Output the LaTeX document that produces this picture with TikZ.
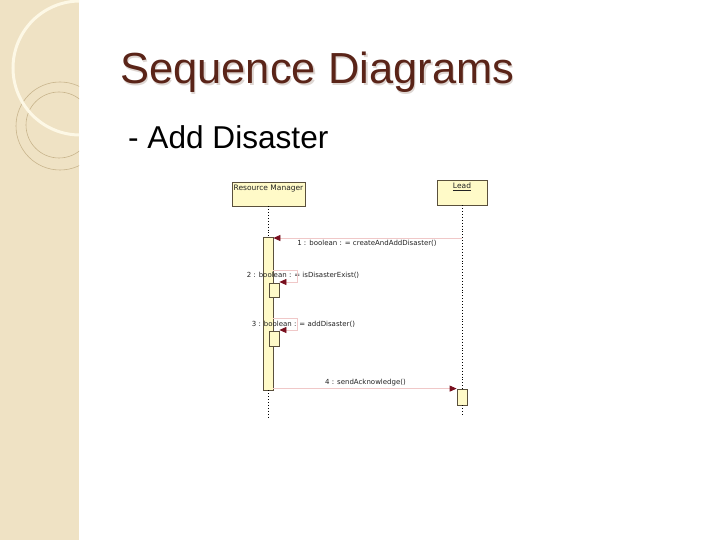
\documentclass[tikz,border=0pt]{standalone}
\usepackage{fontspec}
\setmainfont{Liberation Sans}
\newfontfamily\umlfont{DejaVu Sans}
\usetikzlibrary{arrows.meta,calc}
\definecolor{strip}{RGB}{239,226,196}
\definecolor{striplight}{RGB}{248,241,225}
\definecolor{ringline}{RGB}{200,180,140}
\definecolor{cream}{RGB}{253,248,230}
\definecolor{titlecol}{RGB}{90,36,24}
\definecolor{shadowcol}{RGB}{222,214,210}
\definecolor{boxfill}{RGB}{255,250,200}
\definecolor{boxline}{RGB}{90,80,60}
\definecolor{msgline}{RGB}{240,200,200}
\definecolor{arrowred}{RGB}{120,15,30}
\definecolor{umltext}{RGB}{35,35,35}
\tikzset{
 actorbox/.style={draw=boxline, fill=boxfill, line width=0.8pt, inner sep=0pt},
 actbar/.style={draw=boxline, fill=boxfill, line width=0.8pt, minimum width=10pt, inner sep=0pt},
 lifeline/.style={dotted, line width=0.9pt, black},
 msgarrow/.style={draw=msgline, line width=0.8pt, -{Triangle[length=7pt,width=6pt,color=arrowred]}},
 msglabel/.style={font=\umlfont\fontsize{7}{8}\selectfont, text=umltext, inner sep=0pt},
 actorlabel/.style={font=\umlfont\fontsize{7.5}{9}\selectfont, text=umltext, inner sep=0pt},
 ring/.style={draw=ringline, line width=0.6pt},
}
\begin{document}
\begin{tikzpicture}[x=1pt,y=-1pt]
\useasboundingbox (0,0) rectangle (720,540);
\fill[white] (0,0) rectangle (720,540);
% decorative strip
\begin{scope}
\clip (0,0) rectangle (79,540);
\fill[strip] (0,0) rectangle (79,540);
\fill[striplight] (0,0) -- (64,0) arc[start angle=0, end angle=-90, radius=64] -- cycle;
\draw[ring] (64,0) arc[start angle=0, end angle=-90, radius=64];
\draw[ring] (60,126) circle[radius=44];
\draw[ring] (59,125) circle[radius=33];
\draw[cream, line width=3pt] (80,68) circle[radius=67];
\end{scope}
% titles
\node[anchor=base west, inner sep=0pt, text=shadowcol, font=\fontsize{43.5}{50}\selectfont] at (121.5,85.5) {Sequence Diagrams};
\node[anchor=base west, inner sep=0pt, text=titlecol, font=\fontsize{43.5}{50}\selectfont] (title) at (120,84) {Sequence Diagrams};
\node[anchor=base west, inner sep=0pt, text=black, font=\fontsize{31.6}{37}\selectfont] (sub) at (128,149) {- Add Disaster};
% actors
\node[actorbox, minimum width=73pt, minimum height=24pt] (rm) at (268.5,194) {};
\node[actorlabel, anchor=north] (rmname) at ($(rm.north)+(0,3.5)$) {Resource Manager};
\node[actorbox, minimum width=50pt, minimum height=25pt] (lead) at (462,192.5) {};
\node[actorlabel, anchor=north] (leadname) at ($(lead.north)+(0,3.5)$) {\underline{Lead}};
% lifeline end points and helper coordinates
\coordinate (rmend) at (268,418);
\coordinate (leadend) at (462,415);
\coordinate (m1y) at (0,238);
\coordinate (m2top) at (297,270);
\coordinate (m2bot) at (297,282);
\coordinate (m3top) at (297,318);
\coordinate (m3bot) at (297,330);
% activation bars
\node[actbar, minimum height=153pt] (b1) at (268,313.5) {};
\node[actbar, minimum height=14pt] (b2) at (274,290) {};
\node[actbar, minimum height=15pt] (b3) at (274,338.5) {};
\node[actbar, minimum height=16pt] (b4) at (462,397) {};
% lifelines
\draw[lifeline] (b1.north |- rm.south) -- (b1.north);
\draw[lifeline] (b1.south) -- (rmend);
\draw[lifeline] (lead.south) -- (b4.north);
\draw[lifeline] (b4.south) -- (leadend);
% labels
\node[msglabel] (l1) at (367,243.5) {1 : boolean : = createAndAddDisaster()};
\node[msglabel] (l2) at (303,275) {2 : boolean : = isDisasterExist()};
\node[msglabel] (l3) at (303.5,324) {3 : boolean : = addDisaster()};
\node[msglabel] (l4) at (365.5,383) {4 : sendAcknowledge()};
% messages
\draw[msgarrow] (lead.south |- m1y) -- (b1.east |- m1y);
\draw[msgarrow] (b1.east |- m2top) -- (m2top) -- (m2bot) -- (b2.east |- m2bot);
\draw[msgarrow] (b1.east |- m3top) -- (m3top) -- (m3bot) -- (b3.east |- m3bot);
\draw[msgarrow] (b1.east |- b4.north) -- (b4.north west);
\end{tikzpicture}
\end{document}
